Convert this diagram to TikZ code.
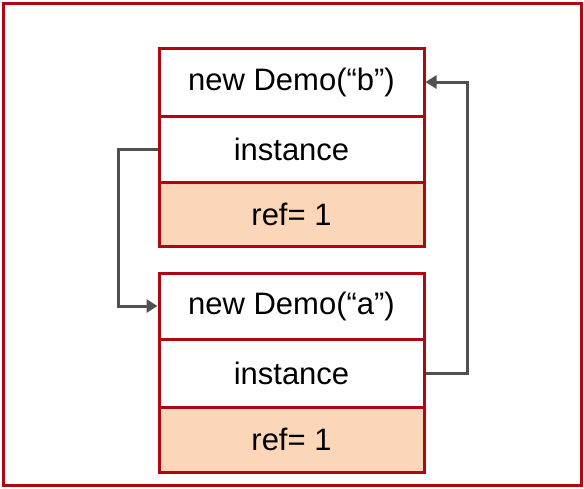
\documentclass[tikz,border=0pt]{standalone}
\usepackage{fontspec}
\setmainfont{Liberation Sans}
\usepackage{xcolor}
\usetikzlibrary{arrows.meta}
\definecolor{darkred}{RGB}{176,6,18}
\definecolor{peach}{RGB}{251,214,184}
\definecolor{darkgray}{RGB}{80,80,80}

\begin{document}
\begin{tikzpicture}[x=1pt, y=-1pt,
    cell/.style={rectangle, draw=darkred, line width=3pt, fill=white, minimum width=265pt, inner sep=0pt, font=\fontsize{31}{36}\selectfont},
    refcell/.style={cell, fill=peach},
    link/.style={draw=darkgray, line width=3pt, -{Triangle[length=11pt, width=13pt]}}]
    \useasboundingbox (0,0) rectangle (584,488);
    % outer frame
    \draw[darkred, line width=3pt] (3,3) rectangle (581,485);

    % Demo b
    \node[cell, minimum height=68pt] (newb) at (291.5,82) {new Demo(“b”)};
    \node[cell, minimum height=66pt] (instb) at (291.5,149) {instance};
    \node[refcell, minimum height=64pt] (refb) at (291.5,214) {ref= 1};

    % Demo a
    \node[cell, minimum height=66pt] (newa) at (291.5,306) {new Demo(“a”)};
    \node[cell, minimum height=68pt] (insta) at (291.5,373) {instance};
    \node[refcell, minimum height=65pt] (refa) at (291.5,439.5) {ref= 1};

    % references
    \draw[link] (instb.west) -- ++(-39,0) |- (newa.west);
    \draw[link] (insta.east) -- ++(42,0) |- (newb.east);
\end{tikzpicture}
\end{document}
